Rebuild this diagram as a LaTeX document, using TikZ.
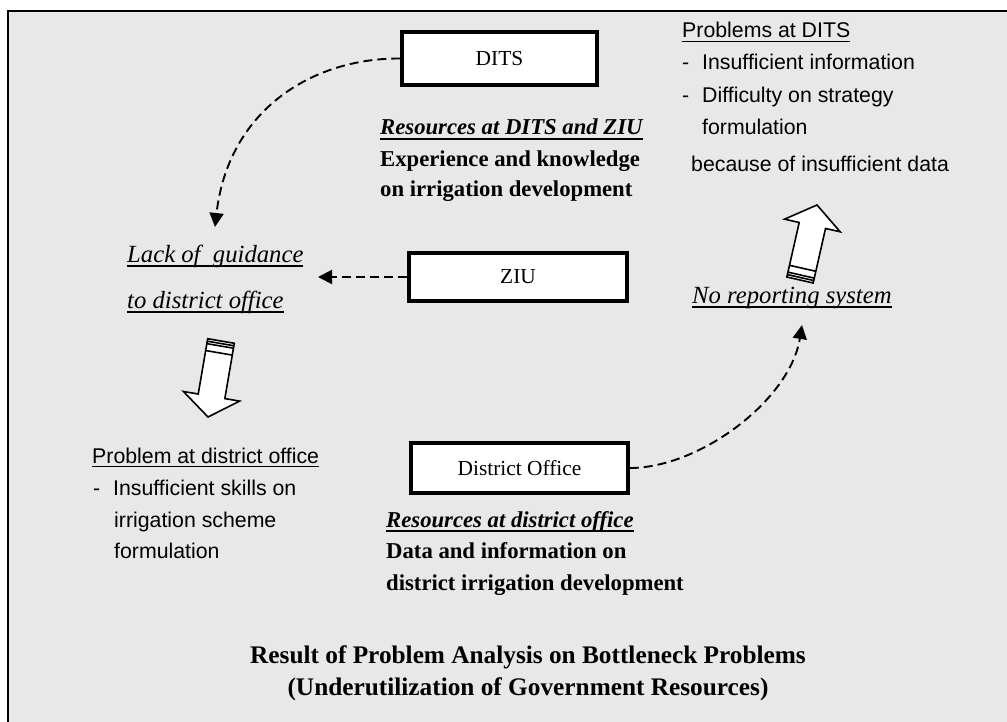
\documentclass[tikz,border=0pt]{standalone}
\usepackage{fontspec}
\setmainfont{Liberation Serif}
\setsansfont{Liberation Sans}
\usetikzlibrary{arrows.meta,calc}
\definecolor{panel}{HTML}{E8E8E8}

% underline at a fixed depth below the baseline
\newcommand{\uln}[1]{\setbox0\hbox{#1}\rlap{\rule[-0.19em]{\wd0}{0.065em}}\box0}
\newcommand{\ulnb}[1]{\setbox0\hbox{#1}\rlap{\rule[-0.24em]{\wd0}{0.1em}}\box0}
% bullet dash with a fixed indent
\newcommand{\dashitem}{\makebox[20pt][l]{-}}

% hollow block arrow with a striped tail: tail point #1, tip point #2
\newcommand{\stripedarrow}[2]{%
  \coordinate (bt) at (#1);
  \coordinate (bh) at (#2);
  \coordinate (bn) at ($(bh)!21pt!(bt)$);
  \draw[line width=1.6pt, fill=white, line join=miter]
    ($(bt)!13.5pt!90:(bh)$) -- ($(bn)!13.5pt!-90:(bt)$) -- ($(bn)!28.5pt!-90:(bt)$)
    -- (bh) -- ($(bn)!28.5pt!90:(bt)$) -- ($(bn)!13.5pt!90:(bt)$)
    -- ($(bt)!13.5pt!-90:(bh)$) -- cycle;
  \foreach \d in {2.5pt,5pt,12pt}{
    \coordinate (bs) at ($(bt)!\d!(bh)$);
    \draw[line width=1.6pt] ($(bs)!13.5pt!90:(bh)$) -- ($(bs)!13.5pt!-90:(bh)$);
  }%
}

\tikzset{
  unitbox/.style={draw, line width=3.5pt, fill=white, inner sep=0pt,
    font=\fontsize{21.4}{25}\selectfont},
  flow/.style={line width=1.9pt, dash pattern=on 9pt off 5pt,
    -{Triangle[length=14pt,width=14pt]}},
  sfnote/.style={anchor=base west, inner sep=0pt, font=\sffamily\fontsize{21.3}{25}\selectfont},
  rmbold/.style={anchor=base west, inner sep=0pt, font=\bfseries\fontsize{22.7}{27}\selectfont},
  rmital/.style={anchor=base west, inner sep=0pt, font=\itshape\fontsize{24.7}{29}\selectfont},
  caption/.style={anchor=base, inner sep=0pt, font=\bfseries\fontsize{25.3}{30}\selectfont},
}

\begin{document}
\begin{tikzpicture}[x=1pt,y=-1pt]
\useasboundingbox (0,0) rectangle (1007,722);

% panel
\fill[panel] (8,11) rectangle (1007,722);
\draw[line width=2pt] (1007,11) -- (8,11) -- (8,722);

% organisation units
\node[unitbox, minimum width=195pt, minimum height=53pt] (dits) at (499.5,58.5) {DITS};
\node[unitbox, minimum width=218pt, minimum height=48pt] (ziu) at (518,277) {ZIU};
\node[unitbox, minimum width=217pt, minimum height=50pt] (dist) at (519.5,468) {District Office};

% problems at DITS
\node[sfnote] (pd1) at (682,38) {\uln{Problems at DITS}};
\node[sfnote] (pd2) at (682,70) {\dashitem Insufficient information};
\node[sfnote] (pd3) at (682,103) {\dashitem Difficulty on strategy};
\node[sfnote] (pd4) at (702,135) {formulation};
\node[sfnote] (pd5) at (691,172) {because of insufficient data};

% resources at DITS and ZIU
\node[rmbold] (rz1) at (380,135) {\itshape\ulnb{Resources at DITS and ZIU}};
\node[rmbold] (rz2) at (380,167) {Experience and knowledge};
\node[rmbold] (rz3) at (380,197) {on irrigation development};

% lack of guidance
\node[rmital] (lg1) at (127,262) {\uln{Lack of\ \ guidance}};
\node[rmital] (lg2) at (127,308) {\uln{to district office}};

% no reporting
\node[rmital] (nr) at (692,303) {\uln{No reporting system}};

% problem at district office
\node[sfnote] (po1) at (92,463) {\uln{Problem at district office}};
\node[sfnote] (po2) at (93,495) {\dashitem Insufficient skills on};
\node[sfnote] (po3) at (114,527) {irrigation scheme};
\node[sfnote] (po4) at (114,558) {formulation};

% resources at district office
\node[rmbold] (rd1) at (386,527) {\itshape\ulnb{Resources at district office}};
\node[rmbold] (rd2) at (386,558) {Data and information on};
\node[rmbold] (rd3) at (386,590) {district irrigation development};

% caption
\node[caption] (t1) at (528,663) {Result of Problem Analysis on Bottleneck Problems};
\node[caption] (t2) at (528,695) {(Underutilization of Government Resources)};

% dashed flows
\coordinate (guideTip) at (215,227);
\coordinate (ziuTip) at (318,277);
\coordinate (reportTip) at (802,325);
\draw[flow] (dits.west) .. controls (310,58) and (228,112) .. (guideTip);
\draw[flow] (ziu.west) -- (ziuTip);
\draw[flow] (dist.east) .. controls (700,468) and (790,400) .. (reportTip);

% block arrows
\stripedarrow{221,341}{208,417}
\stripedarrow{800,280}{817,205}
\end{tikzpicture}
\end{document}
